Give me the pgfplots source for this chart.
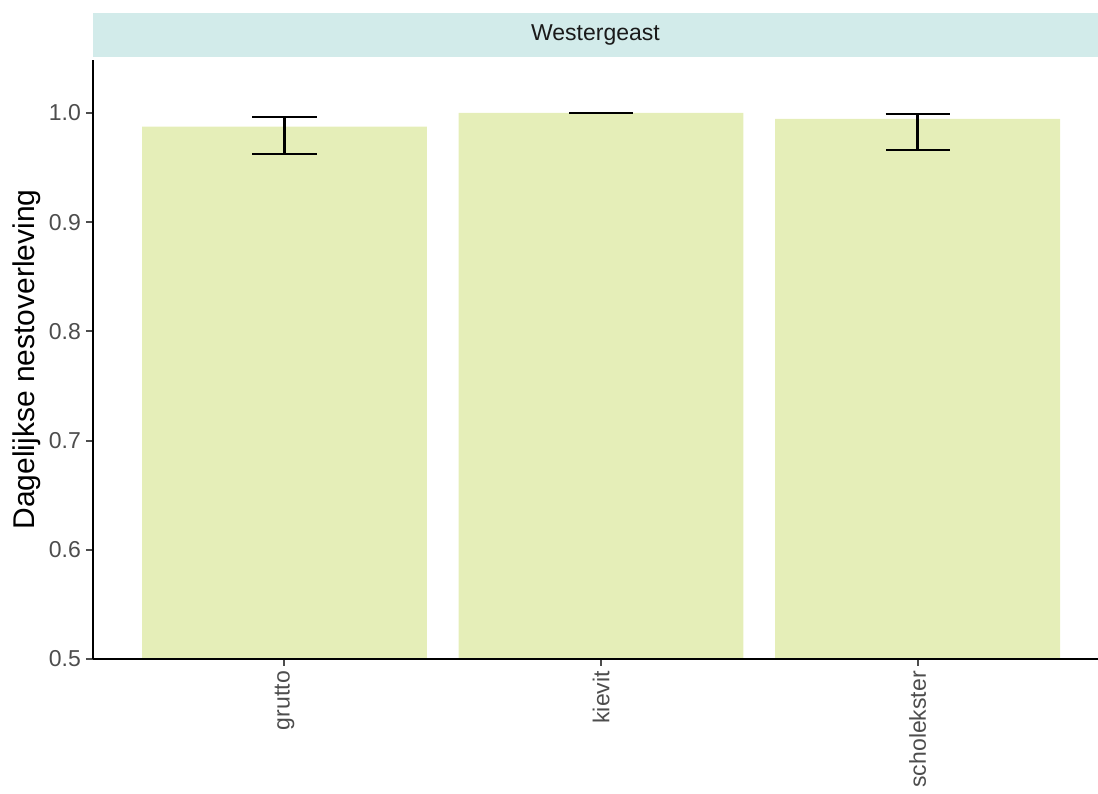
\documentclass[border=0pt]{standalone}
\usepackage{fontspec}
\setmainfont{Liberation Sans}
\usepackage{pgfplots}
\usepackage{pgfplotstable}
\pgfplotsset{compat=1.18}
\definecolor{barfill}{HTML}{E5EEB8}
\definecolor{stripfill}{HTML}{D2EBEA}
\definecolor{ticktext}{HTML}{4D4D4D}
\definecolor{striptext}{HTML}{1A1A1A}
\pgfplotstableread{
x  y       ep      em
1  0.9875  0.0088  0.0250
2  1.0000  0.0000  0.0000
3  0.9945  0.0047  0.0285
}\survival
\begin{document}
\begin{tikzpicture}
\path[use as bounding box] (-93pt,-135pt) rectangle (1005pt,659pt);
\begin{axis}[
  at={(0pt,0pt)}, anchor=south west,
  scale only axis, width=1005pt, height=599pt,
  xmin=0.395, xmax=3.57, ymin=0.5, ymax=1.0485,
  axis x line*=bottom, axis y line*=left,
  axis line style={line width=2.4pt, black, -},
  axis on top,
  xtick={1,2,3}, xticklabels={grutto,kievit,scholekster},
  ytick={0.5,0.6,0.7,0.8,0.9,1.0},
  /pgf/number format/fixed, /pgf/number format/fixed zerofill,
  /pgf/number format/precision=1, /pgf/number format/assume math mode=true,
  tick style={ticktext, line width=2pt},
  major tick length=7pt,
  tick align=outside,
  ticklabel style={font=\fontsize{23}{26}\selectfont, text=ticktext},
  xticklabel style={rotate=90, anchor=east, inner sep=5pt},
  yticklabel style={inner sep=5pt},
  ylabel={Dagelijkse nestoverleving},
  ylabel style={font=\fontsize{30}{34}\selectfont, at={(axis description cs:-0.0657,0.5)}, anchor=center},
  ybar, bar width=0.9, bar shift=0pt,
]
\addplot[fill=barfill, draw=none,
  error bars/.cd, y dir=both, y explicit,
  error bar style={black, line width=2.4pt},
  error mark options={black, line width=2.4pt, mark size=32pt, rotate=90}]
  table[x=x, y=y, y error plus=ep, y error minus=em] {\survival};
\end{axis}
\fill[stripfill] (0pt,602pt) rectangle (1005pt,646pt);
\node[text=striptext, font=\fontsize{23}{26}\selectfont] at (502.5pt,624pt) {Westergeast};
\end{tikzpicture}
\end{document}
